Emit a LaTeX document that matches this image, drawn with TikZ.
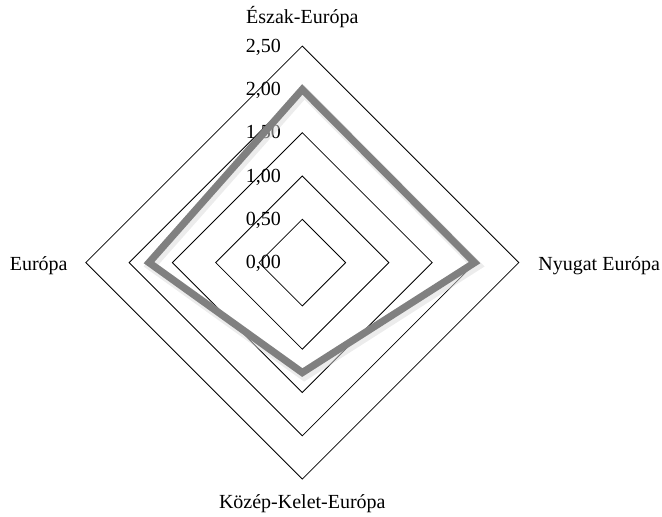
\documentclass[tikz,border=0pt]{standalone}
\usepackage{fontspec}
\setmainfont{Liberation Serif}

\begin{document}
\begin{tikzpicture}[x=0.5pt,y=0.5pt,
	ring/.style={draw=black,line width=0.4pt},
	serie/.style={draw=gray,line width=3.6pt,line join=miter},
	serieshadow/.style={draw=gray!30,line width=5pt,opacity=0.5,line join=miter},
	lbl/.style={font=\fontsize{10}{12}\selectfont,inner sep=0pt}]
\useasboundingbox (-302.3,-253.4) rectangle (359.7,262.6);
% rings and scale
\foreach \i/\t in {0/{0,00},1/{0,50},2/{1,00},3/{1,50},4/{2,00},5/{2,50}} {
	\ifnum\i>0
		\draw[ring] (0,\i*43.3) -- (\i*43.3,0) -- (0,-\i*43.3) -- (-\i*43.3,0) -- cycle;
	\fi
	\node[lbl,anchor=base east] (tick\i) at (-21,\i*43.3-6) {\t};
}
% axis labels
\node[lbl,anchor=base] (eszak) at (0,239.3) {Észak-Európa};
\node[lbl,anchor=base west] (nyugat) at (235.7,-7.4) {Nyugat Európa};
\node[lbl,anchor=base] (kozep) at (0,-245.7) {Közép-Kelet-Európa};
\node[lbl,anchor=base east] (europa) at (-234.3,-7.4) {Európa};
% data
\coordinate (pN) at (0,2.0*86.6);
\coordinate (pE) at (1.99*86.6,0);
\coordinate (pS) at (0,-1.27*86.6);
\coordinate (pW) at (-1.77*86.6,0);
\draw[serieshadow] ([shift={(2,-3)}]pN) -- ([shift={(2,-3)}]pE) -- ([shift={(2,-3)}]pS) -- ([shift={(2,-3)}]pW) -- cycle;
\draw[serie] (pN) -- (pE) -- (pS) -- (pW) -- cycle;
\end{tikzpicture}
\end{document}
